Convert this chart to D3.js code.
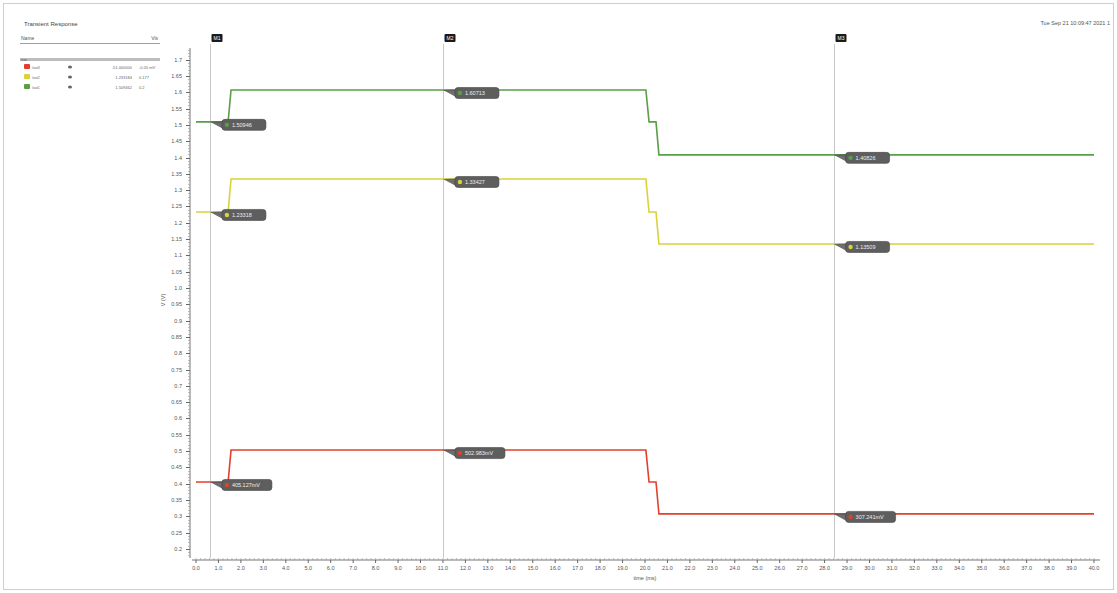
<!DOCTYPE html>
<html>
<head>
<meta charset="utf-8">
<script src="https://cdn.jsdelivr.net/npm/d3@7/dist/d3.min.js"></script>
<style>
  html, body { margin: 0; padding: 0; background: #fff; }
  svg { display: block; font-family: "Liberation Sans", "DejaVu Sans", sans-serif; }
</style>
</head>
<body>
<svg id="chart" width="1117" height="593"></svg>
<script>
// Transient waveform data: breakpoints in time (ms) and the value of each trace
const times      = [0, 1.43, 1.56, 20.04, 20.18, 20.49, 20.62, 40];
const greenVals  = [1.50946, 1.50946, 1.60713, 1.60713, 1.50946, 1.50946, 1.40826, 1.40826];
const yellowVals = [1.23318, 1.23318, 1.33427, 1.33427, 1.23318, 1.23318, 1.13509, 1.13509];
const redVals    = [0.405127, 0.405127, 0.502983, 0.502983, 0.405127, 0.405127, 0.307241, 0.307241];

const seriesNames  = ["/out3", "/out2", "/out1"];
const seriesColors = ["#e2402c", "#d9d23a", "#5a9e46"];
const legendValues = ["-51.000000", "1.233184", "1.509462"];
const legendUnits  = ["-0.05 mV", "0.177", "0.2"];

// Vertical marker cursors
const cursorTimes  = [0.62, 11.0, 28.4];
const cursorNames  = ["M1", "M2", "M3"];

// Axis ticks
const yTicks = d3.range(0, 31).map(i => +(0.2 + i * 0.05).toFixed(2));
const xTicks = d3.range(0, 41);

const svg = d3.select("#chart");

// outer frame
svg.append("rect").attr("x", 3.5).attr("y", 3.5).attr("width", 1110).attr("height", 586)
  .attr("fill", "none").attr("stroke", "#cfcfcf").attr("stroke-width", 1);

const x = d3.scaleLinear().domain([0, 40]).range([196, 1094]);
const y = d3.scaleLinear().domain([0.172, 1.736]).range([558, 48]);

// ---- Y axis ----
const yAxisG = svg.append("g").attr("transform", "translate(190,0)");
yAxisG.append("line").attr("x1", 0).attr("x2", 0).attr("y1", 48).attr("y2", 558)
  .attr("stroke", "#777").attr("stroke-width", 1);
// minor ticks
const yMinor = d3.range(18, 174).map(i => i / 100);
yAxisG.selectAll("line.minor").data(yMinor).join("line").attr("class", "minor")
  .attr("x1", -2).attr("x2", 0)
  .attr("y1", d => Math.round(y(d)) + 0.5).attr("y2", d => Math.round(y(d)) + 0.5)
  .attr("stroke", "#999").attr("stroke-width", 0.6);
const fmtY = v => (Math.abs(v * 10 - Math.round(v * 10)) < 1e-9) ? v.toFixed(1) : v.toFixed(2);
yAxisG.selectAll("g.tick").data(yTicks).join("g").attr("class", "tick")
  .attr("transform", d => `translate(0,${Math.round(y(d)) + 0.5})`)
  .call(g => {
    g.append("line").attr("x1", -4).attr("x2", 0).attr("stroke", "#666").attr("stroke-width", 1);
    g.append("text").attr("x", -8).attr("dy", "0.33em").attr("text-anchor", "end")
      .attr("font-size", 5.5).attr("fill", "#555").text(fmtY);
  });
svg.append("text").attr("transform", "translate(165,300) rotate(-90)")
  .attr("text-anchor", "middle").attr("font-size", 5.5).attr("fill", "#555").text("V (V)");

// ---- X axis ----
const xAxisG = svg.append("g").attr("transform", "translate(0,560)");
xAxisG.append("line").attr("x1", 192).attr("x2", 1100).attr("y1", 0).attr("y2", 0)
  .attr("stroke", "#777").attr("stroke-width", 1.2);
const xMinor = d3.range(0, 201).map(i => i / 5);
xAxisG.selectAll("line.minor").data(xMinor).join("line").attr("class", "minor")
  .attr("x1", d => x(d)).attr("x2", d => x(d)).attr("y1", 0).attr("y2", -2)
  .attr("stroke", "#999").attr("stroke-width", 0.6);
xAxisG.selectAll("g.tick").data(xTicks).join("g").attr("class", "tick")
  .attr("transform", d => `translate(${x(d)},0)`)
  .call(g => {
    g.append("line").attr("y1", 0).attr("y2", 3).attr("stroke", "#666");
    g.append("text").attr("y", 10).attr("text-anchor", "middle")
      .attr("font-size", 5.5).attr("fill", "#555").text(d => d.toFixed(1));
  });
svg.append("text").attr("x", 645).attr("y", 580).attr("text-anchor", "middle")
  .attr("font-size", 5.5).attr("fill", "#555").text("time (ms)");

// ---- Cursor lines ----
const cursorG = svg.append("g");
cursorTimes.forEach((t, i) => {
  const cx = Math.round(x(t)) + 0.5;
  cursorG.append("line").attr("x1", cx).attr("x2", cx).attr("y1", 44).attr("y2", 558)
    .attr("stroke", "#c8c8c8").attr("stroke-width", 1);
  cursorG.append("rect").attr("x", cx + 1).attr("y", 34).attr("width", 11).attr("height", 8)
    .attr("rx", 1).attr("fill", "#1a1a1a");
  cursorG.append("text").attr("x", cx + 6.5).attr("y", 40).attr("text-anchor", "middle")
    .attr("font-size", 5).attr("fill", "#fff").text(cursorNames[i]);
});

// ---- Traces ----
const traces = [
  { name: seriesNames[0], color: seriesColors[0], vals: redVals },
  { name: seriesNames[1], color: seriesColors[1], vals: yellowVals },
  { name: seriesNames[2], color: seriesColors[2], vals: greenVals }
];
const line = d3.line().x(d => x(d[0])).y(d => y(d[1]));
traces.forEach(tr => {
  svg.append("path").datum(times.map((t, i) => [t, tr.vals[i]]))
    .attr("fill", "none").attr("stroke", tr.color).attr("stroke-width", 1.6)
    .attr("d", line);
});

// value of a trace at time t (linear between breakpoints)
function valueAt(vals, t) {
  return d3.scaleLinear().domain(times).range(vals)(t);
}
const fmtVal = v => v >= 1 ? v.toFixed(5) : (v * 1000).toFixed(3) + "mV";

// ---- Marker flags where cursors cross traces ----
const flagG = svg.append("g");
cursorTimes.forEach(t => {
  traces.forEach(tr => {
    const v = valueAt(tr.vals, t);
    const px = x(t), py = y(v);
    const label = fmtVal(v);
    const w = label.length > 8 ? 50 : 44;
    const bx = px + 12, by = py - 2.5, h = 11;
    flagG.append("path")
      .attr("d", `M${px},${py} L${bx + 2},${by + 2} L${bx + 2},${by + h - 1} Z`)
      .attr("fill", "#555").attr("opacity", 0.85);
    flagG.append("rect").attr("x", bx).attr("y", by).attr("width", w).attr("height", h)
      .attr("rx", 3).attr("fill", "#5e5e5e").attr("stroke", "#444").attr("stroke-width", 0.6);
    flagG.append("circle").attr("cx", bx + 5).attr("cy", by + h / 2).attr("r", 2.2)
      .attr("fill", tr.color);
    flagG.append("text").attr("x", bx + 10).attr("y", by + h / 2).attr("dy", "0.35em")
      .attr("font-size", 5.5).attr("fill", "#eee").text(label);
  });
});

// ---- Header / legend ----
svg.append("text").attr("x", 24).attr("y", 26).attr("font-size", 6).attr("fill", "#444")
  .text("Transient Response");
svg.append("text").attr("x", 1110).attr("y", 25).attr("text-anchor", "end")
  .attr("font-size", 5.5).attr("fill", "#555").text("Tue Sep 21 10:09:47 2021  1");

const legG = svg.append("g");
legG.append("text").attr("x", 21).attr("y", 40).attr("font-size", 5).attr("fill", "#555").text("Name");
legG.append("text").attr("x", 158).attr("y", 40).attr("text-anchor", "end")
  .attr("font-size", 5).attr("fill", "#555").text("Vis");
legG.append("line").attr("x1", 20).attr("x2", 160).attr("y1", 43.5).attr("y2", 43.5)
  .attr("stroke", "#888").attr("stroke-width", 0.8);
legG.append("rect").attr("x", 20).attr("y", 58).attr("width", 140).attr("height", 3)
  .attr("fill", "#bdbdbd");
legG.append("text").attr("x", 21).attr("y", 60.5).attr("font-size", 3.5).attr("fill", "#555").text("tran");
traces.forEach((tr, i) => {
  const ry = 67 + i * 10;
  legG.append("rect").attr("x", 24).attr("y", ry - 3).attr("width", 6).attr("height", 5)
    .attr("rx", 1).attr("fill", tr.color);
  legG.append("text").attr("x", 32).attr("y", ry + 2).attr("font-size", 3.5).attr("fill", "#666").text(tr.name);
  legG.append("ellipse").attr("cx", 70).attr("cy", ry).attr("rx", 2).attr("ry", 1.6).attr("fill", "#666");
  legG.append("text").attr("x", 132).attr("y", ry + 2).attr("text-anchor", "end")
    .attr("font-size", 4).attr("fill", "#666").text(legendValues[i]);
  legG.append("text").attr("x", 139).attr("y", ry + 2)
    .attr("font-size", 4).attr("fill", "#666").text(legendUnits[i]);
});
</script>
</body>
</html>
